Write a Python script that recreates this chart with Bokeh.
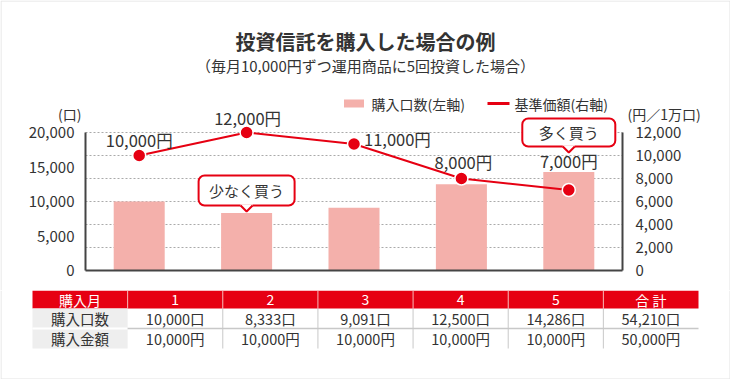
from bokeh.plotting import figure
from bokeh.models import Range1d, LinearAxis, FixedTicker, NumeralTickFormatter
from bokeh.layouts import column
from bokeh.embed import file_html
from bokeh.resources import INLINE
from bokeh.core.properties import value

# ---------------- data ----------------
months = [1, 2, 3, 4, 5]
units = [10000, 8333, 9091, 12500, 14286]        # 購入口数（左軸）
prices = [10000, 12000, 11000, 8000, 7000]        # 基準価額（右軸, 円／1万口）
amounts = [10000, 10000, 10000, 10000, 10000]     # 購入金額
total_units = 54210
total_amount = 50000
left_ticks = [0, 5000, 10000, 15000, 20000]
right_ticks = [0, 2000, 4000, 6000, 8000, 10000, 12000]

title_text = "投資信託を購入した場合の例"
subtitle_text = "（毎月10,000円ずつ運用商品に5回投資した場合）"
legend_bar = "購入口数(左軸)"
legend_line = "基準価額(右軸)"
left_unit = "(口)"
right_unit = "(円／1万口)"
callout_months = [2, 5]
callout_texts = ["少なく買う", "多く買う"]
table_header = ["購入月", "1", "2", "3", "4", "5", "合 計"]
row_labels = ["購入口数", "購入金額"]

# ---------------- style / layout ----------------
FN = "Noto Sans CJK JP"
FONT = value(FN)
RED = "#e60012"
PINK = "#f4b0ab"
TXT = "#333333"
AX = "#444444"
GRID = "#aaaaaa"
FRAME = "#e2e2e2"

W = 730
PL, PR, PT, PB = 85, 622, 132, 270      # plot area in page px
CH = 290
L_MAX, R_MAX = left_ticks[-1], right_ticks[-1]
NX = len(months)


def xd(px):
    return 0.5 + (px - PL) * NX / (PR - PL)


def yd(py):
    return (PB - py) * L_MAX / (PB - PT)


def yr(py):
    return (PB - py) * R_MAX / (PB - PT)


def dx(px):
    return px * NX / (PR - PL)


p = figure(width=W, height=CH, output_backend="svg", toolbar_location=None,
           x_range=Range1d(xd(0), xd(W)), y_range=Range1d(yd(CH), yd(0)),
           x_axis_location=None, y_axis_location=None, min_border=0)
p.outline_line_color = None
p.background_fill_color = "white"
p.border_fill_color = "white"
p.grid.visible = False
p.extra_y_ranges = {"right": Range1d(yr(CH), yr(0))}

# light frame around the whole graphic (top, left, right)
p.line([xd(0.5), xd(0.5), xd(W - 0.5), xd(W - 0.5)], [yd(CH), yd(0.5), yd(0.5), yd(CH)],
       line_color=FRAME, line_width=1)


def style_axis(a, standoff):
    a.axis_line_color = AX
    a.axis_line_width = 2
    a.major_tick_line_color = None
    a.minor_tick_line_color = None
    a.major_label_text_font = FN
    a.major_label_text_font_size = "15px"
    a.major_label_text_color = TXT
    a.major_label_standoff = standoff


# dotted grid lines at the right-axis ticks
grid_vals = [t for t in right_ticks if t > 0]
p.segment(x0=[0.5] * len(grid_vals), x1=[NX + 0.5] * len(grid_vals), y0=grid_vals, y1=grid_vals,
          y_range_name="right", line_color=GRID, line_dash="2 2", line_width=1)

# bars
p.vbar(x=months, top=units, width=0.475, fill_color=PINK, line_color=None)

# axes (fixed at the plot-area edges)
ya = LinearAxis(fixed_location=0.5, ticker=FixedTicker(ticks=left_ticks), bounds=(0, L_MAX),
                formatter=NumeralTickFormatter(format="0,0"))
style_axis(ya, 5)
p.add_layout(ya, "left")

ra = LinearAxis(y_range_name="right", fixed_location=NX + 0.5, ticker=FixedTicker(ticks=right_ticks),
                bounds=(0, R_MAX), formatter=NumeralTickFormatter(format="0,0"))
style_axis(ra, 7)
p.add_layout(ra, "right")

xa = LinearAxis(fixed_location=0, ticker=FixedTicker(ticks=[]), bounds=(0.5, NX + 0.5))
style_axis(xa, 0)
xa.major_label_text_font_size = "0px"
p.add_layout(xa, "below")

# line + points
p.line(months, prices, y_range_name="right", line_color=RED, line_width=2)
p.scatter(months, prices, y_range_name="right", size=13, fill_color=RED,
          line_color="white", line_width=1.5)

# value labels
p.text(x=months, y=prices, y_range_name="right",
       text=[f"{v:,}円" for v in prices],
       x_offset=[0, 1, 10, 2, 0], y_offset=[-16, -15, -5, -17, -29],
       text_align=["center", "center", "left", "center", "center"],
       text_baseline="middle", text_font=FONT, text_font_size="16.5px", text_color=TXT)

# callouts
co_cy = [190, 132]
co_w = [96, 93]
co_h = [30, 28]
co_tip = 6
p.rect(x=callout_months, y=[yd(c) for c in co_cy], width=co_w, height=co_h,
       width_units="screen", height_units="screen", fill_color="white",
       line_color=RED, line_width=2, border_radius=6)
for m, cy, h in zip(callout_months, co_cy, co_h):
    bottom = cy + h / 2
    p.quad(left=[m - dx(6)], right=[m + dx(6)], top=[yd(bottom - 1.3)], bottom=[yd(bottom + 1.3)],
           fill_color="white", line_color=None)
    p.patch([m - dx(6), m + dx(6), m], [yd(bottom), yd(bottom), yd(bottom + co_tip)],
            fill_color="white", line_color=None)
    p.line([m - dx(6), m, m + dx(6)], [yd(bottom), yd(bottom + co_tip), yd(bottom)],
           line_color=RED, line_width=2)
p.text(x=callout_months, y=[yd(c) for c in co_cy], text=callout_texts,
       text_align="center", text_baseline="middle", text_font=FONT,
       text_font_size="15px", text_color=TXT)

# title / subtitle
p.text(x=[xd(365)], y=[yd(41)], text=[title_text], text_align="center",
       text_baseline="middle", text_font=FONT, text_font_size="20px",
       text_font_style="bold", text_color=TXT)
p.text(x=[xd(365)], y=[yd(65)], text=[subtitle_text], text_align="center",
       text_baseline="middle", text_font=FONT, text_font_size="15px", text_color=TXT)

# legend
p.rect(x=[xd(353.5)], y=[yd(103)], width=20, height=8, width_units="screen",
       height_units="screen", fill_color=PINK, line_color=None)
p.line([xd(487), xd(509)], [yd(103), yd(103)], line_color=RED, line_width=3)
p.text(x=[xd(371), xd(514)], y=[yd(103), yd(103)], text=[legend_bar, legend_line],
       text_align="left", text_baseline="middle", text_font=FONT,
       text_font_size="14px", text_color=TXT)

# axis unit labels
p.text(x=[xd(81), xd(627)], y=[yd(113), yd(113)], text=[left_unit, right_unit],
       text_align=["right", "left"], text_baseline="middle", text_font=FONT,
       text_font_size="14px", text_color=TXT)

# ---------------- table ----------------
TH = 89
TL, TR = 32, 698
ncol = len(table_header)
colw = (TR - TL) / ncol
t = figure(width=W, height=TH, output_backend="svg", toolbar_location=None,
           x_range=Range1d(-TL / colw, ncol + (W - TR) / colw),
           y_range=Range1d(TH, 0), x_axis_location=None, y_axis_location=None,
           min_border=0)
t.grid.visible = False
t.outline_line_color = None
t.background_fill_color = "white"
t.border_fill_color = "white"

# light frame (left, bottom, right)
t.line([0.5 / colw - TL / colw, 0.5 / colw - TL / colw, (W - 0.5 - TL) / colw, (W - 0.5 - TL) / colw],
       [0, TH - 0.5, TH - 0.5, 0], line_color=FRAME, line_width=1)

HB, R1, R2 = 18, 38, 58
cols = list(range(ncol))
t.quad(left=cols, right=[c + 1 for c in cols], top=0, bottom=HB, fill_color=RED, line_color=None)
t.segment(x0=cols[1:], y0=0, x1=cols[1:], y1=HB, line_color="#f6b3b3", line_width=1)
t.quad(left=[0, 0], right=[1, 1], top=[HB, R1], bottom=[R1, R2], fill_color="#eeeeee", line_color=None)
t.segment(x0=[0], y0=[R1], x1=[1], y1=[R1], line_color="white", line_width=2)
t.segment(x0=[1], y0=[R1], x1=[ncol], y1=[R1], line_color="#c8c8c8", line_width=1.5)
t.segment(x0=cols[2:], y0=HB, x1=cols[2:], y1=R2, line_color="#c8c8c8", line_width=1)

centers = [c + 0.5 for c in cols]
t.text(x=centers, y=[HB / 2] * ncol, text=table_header, text_align="center",
       text_baseline="middle", text_font=FONT, text_font_size="14px", text_color="white")
row1 = [row_labels[0]] + [f"{u:,}口" for u in units] + [f"{total_units:,}口"]
row2 = [row_labels[1]] + [f"{a:,}円" for a in amounts] + [f"{total_amount:,}円"]
t.text(x=centers, y=[(HB + R1) / 2] * ncol, text=row1, text_align="center",
       text_baseline="middle", text_font=FONT, text_font_size="14.5px", text_color=TXT)
t.text(x=centers, y=[(R1 + R2) / 2] * ncol, text=row2, text_align="center",
       text_baseline="middle", text_font=FONT, text_font_size="14.5px", text_color=TXT)

layout = column(p, t, spacing=0)
open("out.html", "w").write(file_html(layout, INLINE))
